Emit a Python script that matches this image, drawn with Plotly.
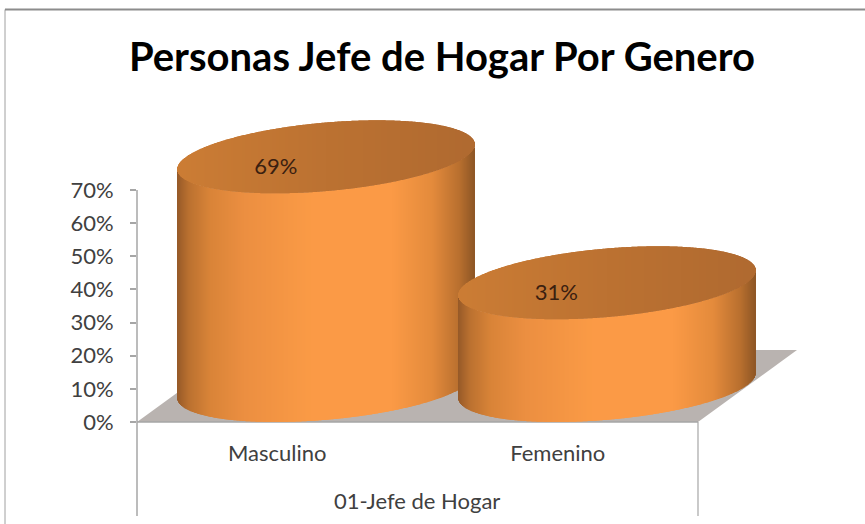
import numpy as np
import plotly.graph_objects as go

TITLE = "Personas Jefe de Hogar Por Genero"
GROUP = "01-Jefe de Hogar"
categories = ["Masculino", "Femenino"]
values = [69, 31]
y_ticks = [0, 10, 20, 30, 40, 50, 60, 70]

W, H = 865, 524
AX_L, AX_R, AX_Y = 137, 698, 422
PLOT_R = 800
PX_PER_PCT = 232 / 70
PW = AX_R - AX_L
cat_pos = [PW * 0.25, PW * 0.75]
DEPTH_DX = 49          # horizontal offset of cylinder centre from its category
A = 148.5              # semi-width in px
LIFT = 36.5 / PX_PER_PCT
SHEAR = 12.5 / PX_PER_PCT
MINOR = 34.3 / PX_PER_PCT

BODY = [(-1.0, "#965a28"), (-0.92, "#bb7130"), (-0.78, "#d98438"), (-0.55, "#ec8f41"),
        (-0.1, "#fb9b46"), (0.45, "#fb9a46"), (0.72, "#e48b3c"), (0.9, "#b9702f"), (1.0, "#8f5726")]
TOP = [(-1.0, "#cc7d35"), (0.0, "#bc7232"), (1.0, "#b06a30")]


def ramp(stops, u):
    xs = [s[0] for s in stops]
    ch = [[int(s[1][i:i + 2], 16) for s in stops] for i in (1, 3, 5)]
    return "rgb(%d,%d,%d)" % tuple(np.interp(u, xs, c) for c in ch)


fig = go.Figure()
for cat, val, pos in zip(categories, values, cat_pos):
    cx = pos + DEPTH_DX
    xs = np.arange(cx - A + 0.5, cx + A, 1.0)
    u = (xs - cx) / A
    rise = SHEAR * u
    half = MINOR * np.sqrt(1 - u ** 2)
    fig.add_bar(x=xs, y=np.full(xs.shape, val), base=LIFT + rise - half, width=1.4,
                marker=dict(color=[ramp(BODY, t) for t in u], line_width=0),
                cliponaxis=False, name=cat, hoverinfo="skip")
    fig.add_bar(x=xs, y=2 * half, base=val + LIFT + rise - half, width=1.4,
                marker=dict(color=[ramp(TOP, t) for t in u], line_width=0),
                cliponaxis=False, name=cat, hoverinfo="skip")

fig.add_scatter(x=[p - 1.5 for p in cat_pos], y=[v + 7.5 for v in values],
                text=[f"{v}%" for v in values], mode="text", cliponaxis=False,
                textfont=dict(family="Lato", size=22, color="#3a2010"), hoverinfo="skip")


def px(x):
    return x / W


def py(y):
    return 1 - y / H


floor = "M %f %f L %f %f L %f %f L %f %f Z" % (
    px(AX_L), py(AX_Y), px(AX_R), py(AX_Y), px(797), py(350), px(236), py(350))
grey = "#a6a6a6"
shapes = [
    dict(type="path", path=floor, xref="paper", yref="paper", fillcolor="#b9b3b0", line_width=0, layer="below"),
    dict(type="line", xref="paper", yref="paper", x0=px(AX_L), x1=px(AX_L), y0=py(190), y1=py(516),
         line=dict(color=grey, width=1.5), layer="below"),
    dict(type="line", xref="paper", yref="paper", x0=px(AX_R), x1=px(AX_R), y0=py(AX_Y), y1=py(516),
         line=dict(color=grey, width=1.2), layer="below"),
    dict(type="line", xref="paper", yref="paper", x0=px(AX_L), x1=px(AX_R), y0=py(AX_Y), y1=py(AX_Y),
         line=dict(color=grey, width=1.5), layer="below"),
    dict(type="line", xref="paper", yref="paper", x0=px(5), x1=px(5), y0=py(9.5), y1=py(524),
         line=dict(color="#a0a0a0", width=1), layer="below"),
    dict(type="line", xref="paper", yref="paper", x0=px(5), x1=1, y0=py(9.5), y1=py(9.5),
         line=dict(color="#8c8c8c", width=2), layer="below"),
]

font_color = "#404040"
fig.update_layout(
    width=W, height=H, autosize=False, margin=dict(l=0, r=0, t=0, b=0),
    paper_bgcolor="white", plot_bgcolor="rgba(0,0,0,0)", showlegend=False,
    barmode="overlay", shapes=shapes,
    title=dict(text=TITLE, x=442 / W, xanchor="center", y=py(57), yanchor="middle",
               font=dict(family="Lato", size=40, color="black", weight="bold")),
    xaxis=dict(domain=[px(AX_L), px(PLOT_R)], range=[0, PLOT_R - AX_L], showgrid=False, zeroline=False,
               showline=False, tickmode="array", tickvals=cat_pos, ticktext=categories, ticks="",
               ticklabelstandoff=16, automargin=False,
               tickfont=dict(family="Lato", size=22, color=font_color)),
    yaxis=dict(domain=[py(AX_Y), 1], range=[0, AX_Y / PX_PER_PCT], showgrid=False, zeroline=False, showline=False,
               tickmode="array", tickvals=y_ticks, ticktext=[f"{t}%" for t in y_ticks], ticks="outside",
               ticklen=6, tickcolor=grey, tickwidth=1.5, automargin=False, ticklabelstandoff=12,
               tickfont=dict(family="Lato", size=22, color=font_color)),
    annotations=[dict(text=GROUP, x=px(417), xref="paper", xanchor="center", y=py(500), yref="paper",
                      yanchor="middle", showarrow=False,
                      font=dict(family="Lato", size=22, color=font_color))],
)
fig.write_html("out.html", config={"displayModeBar": False},
               post_script="document.body.style.margin='0';window.dispatchEvent(new Event('resize'));")
